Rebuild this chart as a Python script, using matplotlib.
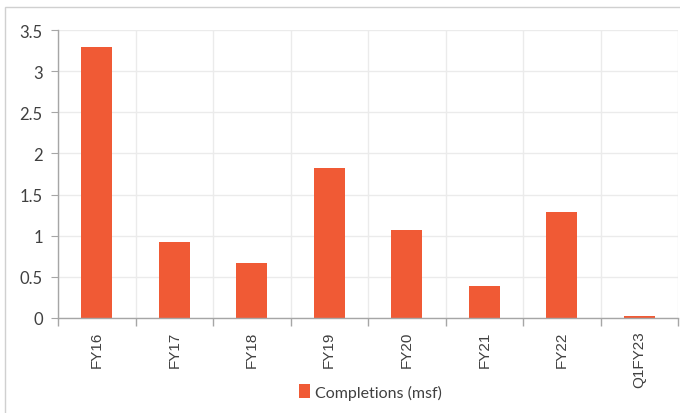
import matplotlib
matplotlib.use("Agg")
import matplotlib.pyplot as plt
from matplotlib.patches import Rectangle
from matplotlib.ticker import FixedLocator, FuncFormatter
import numpy as np

categories = ["FY16", "FY17", "FY18", "FY19", "FY20", "FY21", "FY22", "Q1FY23"]
completions = [3.29, 0.92, 0.67, 1.82, 1.07, 0.39, 1.29, 0.02]
series_name = "Completions (msf)"
y_ticks = [0, 0.5, 1, 1.5, 2, 2.5, 3, 3.5]

bar_color = "#F05A35"
grid_color = "#EBEBEB"
axis_color = "#A6A6A6"
text_color = "#404040"

plt.rcParams["font.family"] = ["Liberation Sans", "DejaVu Sans"]

fig = plt.figure(figsize=(6.8, 4.14), dpi=100)
ax = fig.add_axes([58 / 680, 1 - 319 / 414, 620 / 680, 288 / 414])

x = np.arange(len(categories))
ax.bar(x, completions, width=0.4, color=bar_color, label=series_name, zorder=3)

ax.set_xlim(-0.5, len(categories) - 0.5)
ax.set_ylim(0, 3.5)
ax.yaxis.set_major_locator(FixedLocator(y_ticks))
ax.yaxis.set_major_formatter(FuncFormatter(lambda v, p: f"{v:g}"))

ax.xaxis.set_minor_locator(FixedLocator(np.arange(-0.5, len(categories), 1.0)))
ax.tick_params(axis="x", which="major", length=0, pad=9,
               labelsize=11, labelcolor=text_color, labelrotation=90)
ax.tick_params(axis="x", which="minor", length=6, color=axis_color, width=1)
ax.tick_params(axis="y", length=5, color=axis_color, labelsize=12,
               labelcolor=text_color, pad=6)
ax.set_xticks(x)
ax.set_xticklabels(categories)

ax.grid(True, axis="y", color=grid_color, linewidth=1, zorder=0)
ax.grid(True, axis="x", which="minor", color=grid_color, linewidth=1, zorder=0)

for side in ("top", "right"):
    ax.spines[side].set_visible(False)
for side in ("left", "bottom"):
    ax.spines[side].set_color(axis_color)
    ax.spines[side].set_linewidth(1)
ax.spines["bottom"].set_zorder(4)

leg = fig.legend(loc="center", bbox_to_anchor=(370 / 680, 1 - 393 / 414),
                 frameon=False, handlelength=0.7, handleheight=0.9,
                 handletextpad=0.3, prop={"family": "Lato", "size": 11.5})
for t in leg.get_texts():
    t.set_color(text_color)

fig.canvas.draw()
for lab in ax.get_yticklabels():
    lab.set_family("Lato")

fig.patches.append(Rectangle((5 / 680, -0.01), 1.0, 1 - 8 / 414 + 0.01,
                             transform=fig.transFigure, fill=False,
                             edgecolor="#D0D0D0", linewidth=1))

fig.savefig("out.png", dpi=100)
